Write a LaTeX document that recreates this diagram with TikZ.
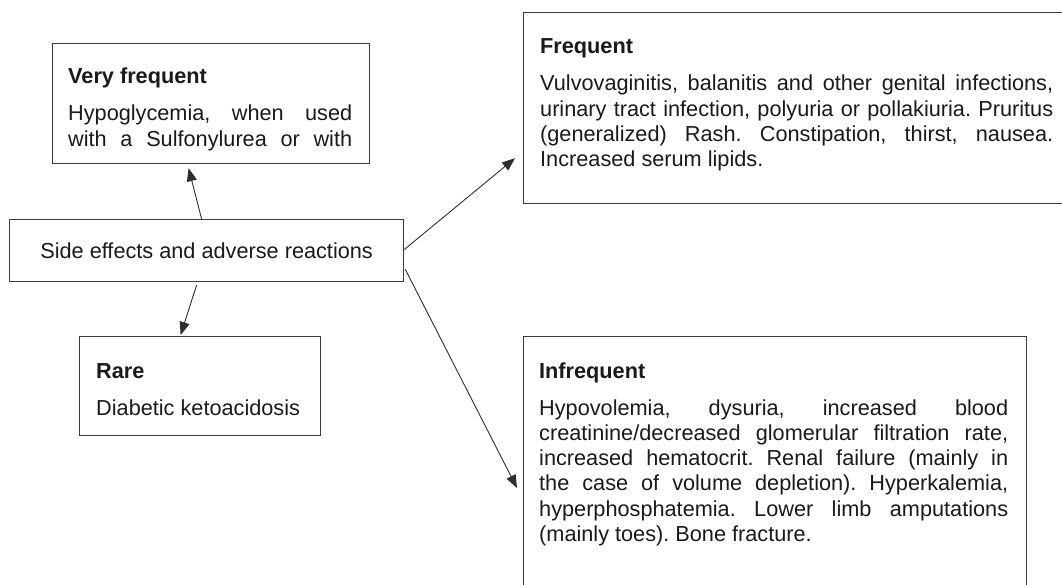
\documentclass[tikz,border=0pt]{standalone}
\usepackage{fontspec}
\setmainfont{Liberation Sans}
\usetikzlibrary{arrows.meta}
\definecolor{boxline}{HTML}{3C3C3C}
\definecolor{arrline}{HTML}{2E2E2E}
\definecolor{ink}{HTML}{1A1A1A}
\newcommand\bodyfnt{\fontsize{21.7pt}{25.3pt}\selectfont\frenchspacing}
\begin{document}
\begin{tikzpicture}[x=1pt,y=-1pt,
  box/.style={draw=boxline, line width=1.2pt, rectangle, inner sep=0pt, anchor=north west, text=ink, font=\bodyfnt},
  txt/.style={anchor=base west, inner sep=0pt, text=ink, font=\bodyfnt},
  arr/.style={draw=arrline, line width=0.9pt, -{Triangle[length=13pt,width=10pt]}}]
\useasboundingbox (0,0) rectangle (1062,585);
\clip (0,0) rectangle (1062,585);
\fill[white] (0,0) rectangle (1062,585);

% boxes
\node[box, minimum width=317pt, minimum height=120pt] (vf) at (52,43) {};
\node[box, minimum width=394pt, minimum height=62pt] (side) at (9,219) {Side effects and adverse reactions};
\node[box, minimum width=241pt, minimum height=99pt] (rare) at (79,336) {};
\node[box, minimum width=547pt, minimum height=191pt] (freq) at (523,12) {};
\node[box, minimum width=503pt, minimum height=264pt] (infreq) at (523,336) {};

% Very frequent
\node[txt] (vftitle) at (68,84) {\textbf{Very frequent}};
\node[txt] (vfbody) at (68,121) {\parbox[t]{284pt}{%
\makebox[284pt][s]{Hypoglycemia, when used}\\
\makebox[284pt][s]{with a Sulfonylurea or with}}};

% Rare
\node[txt] (raretitle) at (96,378) {\textbf{Rare}};
\node[txt] (rarebody) at (96,415) {Diabetic ketoacidosis};

% Frequent
\node[txt] (freqtitle) at (540,54) {\textbf{Frequent}};
\node[txt] (freqbody) at (540,91) {\parbox[t]{513pt}{%
\makebox[513pt][s]{Vulvovaginitis, balanitis and other genital infections,}\\
\makebox[513pt][s]{urinary tract infection, polyuria or pollakiuria. Pruritus}\\
\makebox[513pt][s]{(generalized) Rash. Constipation, thirst, nausea.}\\
Increased serum lipids.}};

% Infrequent
\node[txt] (inftitle) at (539,378) {\textbf{Infrequent}};
\node[txt] (infbody) at (539,415) {\parbox[t]{469pt}{%
\makebox[469pt][s]{Hypovolemia, dysuria, increased blood}\\
\makebox[469pt][s]{creatinine/decreased glomerular filtration rate,}\\
\makebox[469pt][s]{increased hematocrit. Renal failure (mainly in}\\
\makebox[469pt][s]{the case of volume depletion). Hyperkalemia,}\\
\makebox[469pt][s]{hyperphosphatemia. Lower limb amputations}\\
(mainly toes). Bone fracture.}};

% connectors
\draw[arr] ([xshift=-5pt]side.north) -- ([xshift=-22.5pt,yshift=-4pt]vf.south);
\draw[arr] ([xshift=-10pt,yshift=-3pt]side.south) -- ([xshift=-19.5pt,yshift=1pt]rare.north);
\draw[arr] ([yshift=1pt]side.east) -- ([xshift=-8pt,yshift=46pt]freq.south west);
\draw[arr] ([xshift=1pt,yshift=13pt]side.south east) -- ([xshift=-6pt,yshift=-152pt]infreq.north west);
\end{tikzpicture}
\end{document}
